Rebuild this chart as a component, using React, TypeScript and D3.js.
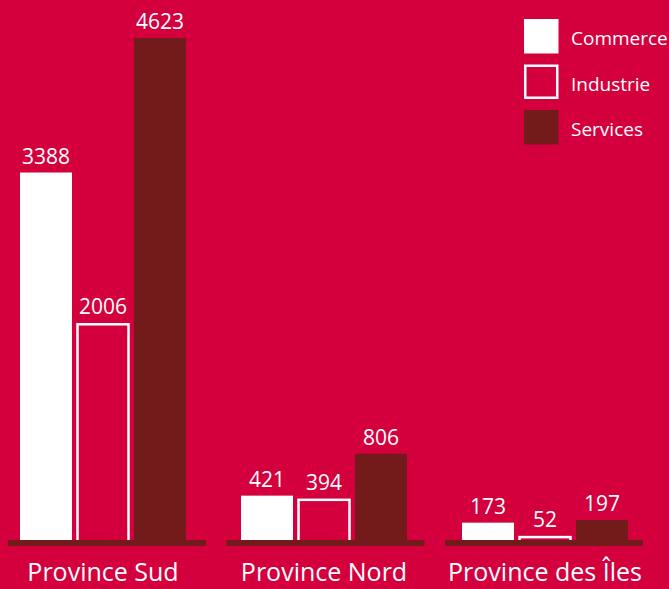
import React from "react";
import * as d3 from "d3";

const categories = ["Province Sud", "Province Nord", "Province des Îles"];
const series = ["Commerce", "Industrie", "Services"];
const commerce = [3388, 421, 173];
const industrie = [2006, 394, 52];
const services = [4623, 806, 197];
const values = [commerce, industrie, services];

const W = 669;
const H = 589;
const BG = "#d4003e";
const DARK = "#731a1b";
const WHITE = "#ffffff";
const FONT = "'Open Sans', sans-serif";

export default function App() {
  const x0 = d3.scaleBand<string>().domain(categories).range([20, 628]).paddingInner(0.249);
  const x1 = d3.scaleBand<string>().domain(series).range([0, x0.bandwidth()]).paddingInner(0.0877);
  const xBase = d3.scaleBand<string>().domain(categories).range([8, 643]).paddingInner(0.094);
  const y = d3.scaleLinear().domain([0, 4623]).range([541.5, 38]);

  const legendY = d3.scaleBand<string>().domain(series).range([19, 144.5]).paddingInner(0.242);

  return (
    <svg width={W} height={H} style={{ position: "absolute", left: 0, top: 0, display: "block" }}>
      <rect x={0} y={0} width={W} height={H} fill={BG} />
      {categories.map((c, ci) => (
        <g key={c}>
          {series.map((s, si) => {
            const v = values[si][ci];
            const bx = x0(c)! + x1(s)!;
            const bw = x1.bandwidth();
            const top = y(v);
            const h = y(0) - top;
            return (
              <g key={s}>
                {si === 1 ? (
                  <rect x={bx + 0.5} y={top + 1.25} width={bw - 1} height={h} fill="none" stroke={WHITE} strokeWidth={2.5} />
                ) : (
                  <rect x={bx} y={top} width={bw} height={h} fill={si === 0 ? WHITE : DARK} />
                )}
                <text x={bx + bw / 2} y={top - 9} textAnchor="middle" fill={WHITE} fontFamily={FONT} fontSize={21}>
                  {v}
                </text>
              </g>
            );
          })}
          <rect x={xBase(c)!} y={540} width={xBase.bandwidth()} height={6} fill={DARK} />
          <text x={x0(c)! + x0.bandwidth() / 2} y={581} textAnchor="middle" fill={WHITE} fontFamily={FONT} fontSize={25}>
            {c}
          </text>
        </g>
      ))}
      {series.map((s, si) => {
        const ly = legendY(s)!;
        const sz = legendY.bandwidth();
        return (
          <g key={s}>
            {si === 1 ? (
              <rect x={525.25} y={ly + 1.25} width={sz - 2.5} height={sz - 2.5} fill="none" stroke={WHITE} strokeWidth={2.5} />
            ) : (
              <rect x={524} y={ly} width={sz} height={sz} fill={si === 0 ? WHITE : DARK} />
            )}
            <text x={571} y={ly + sz / 2 + 9} fill={WHITE} fontFamily={FONT} fontSize={19}>
              {s}
            </text>
          </g>
        );
      })}
    </svg>
  );
}
